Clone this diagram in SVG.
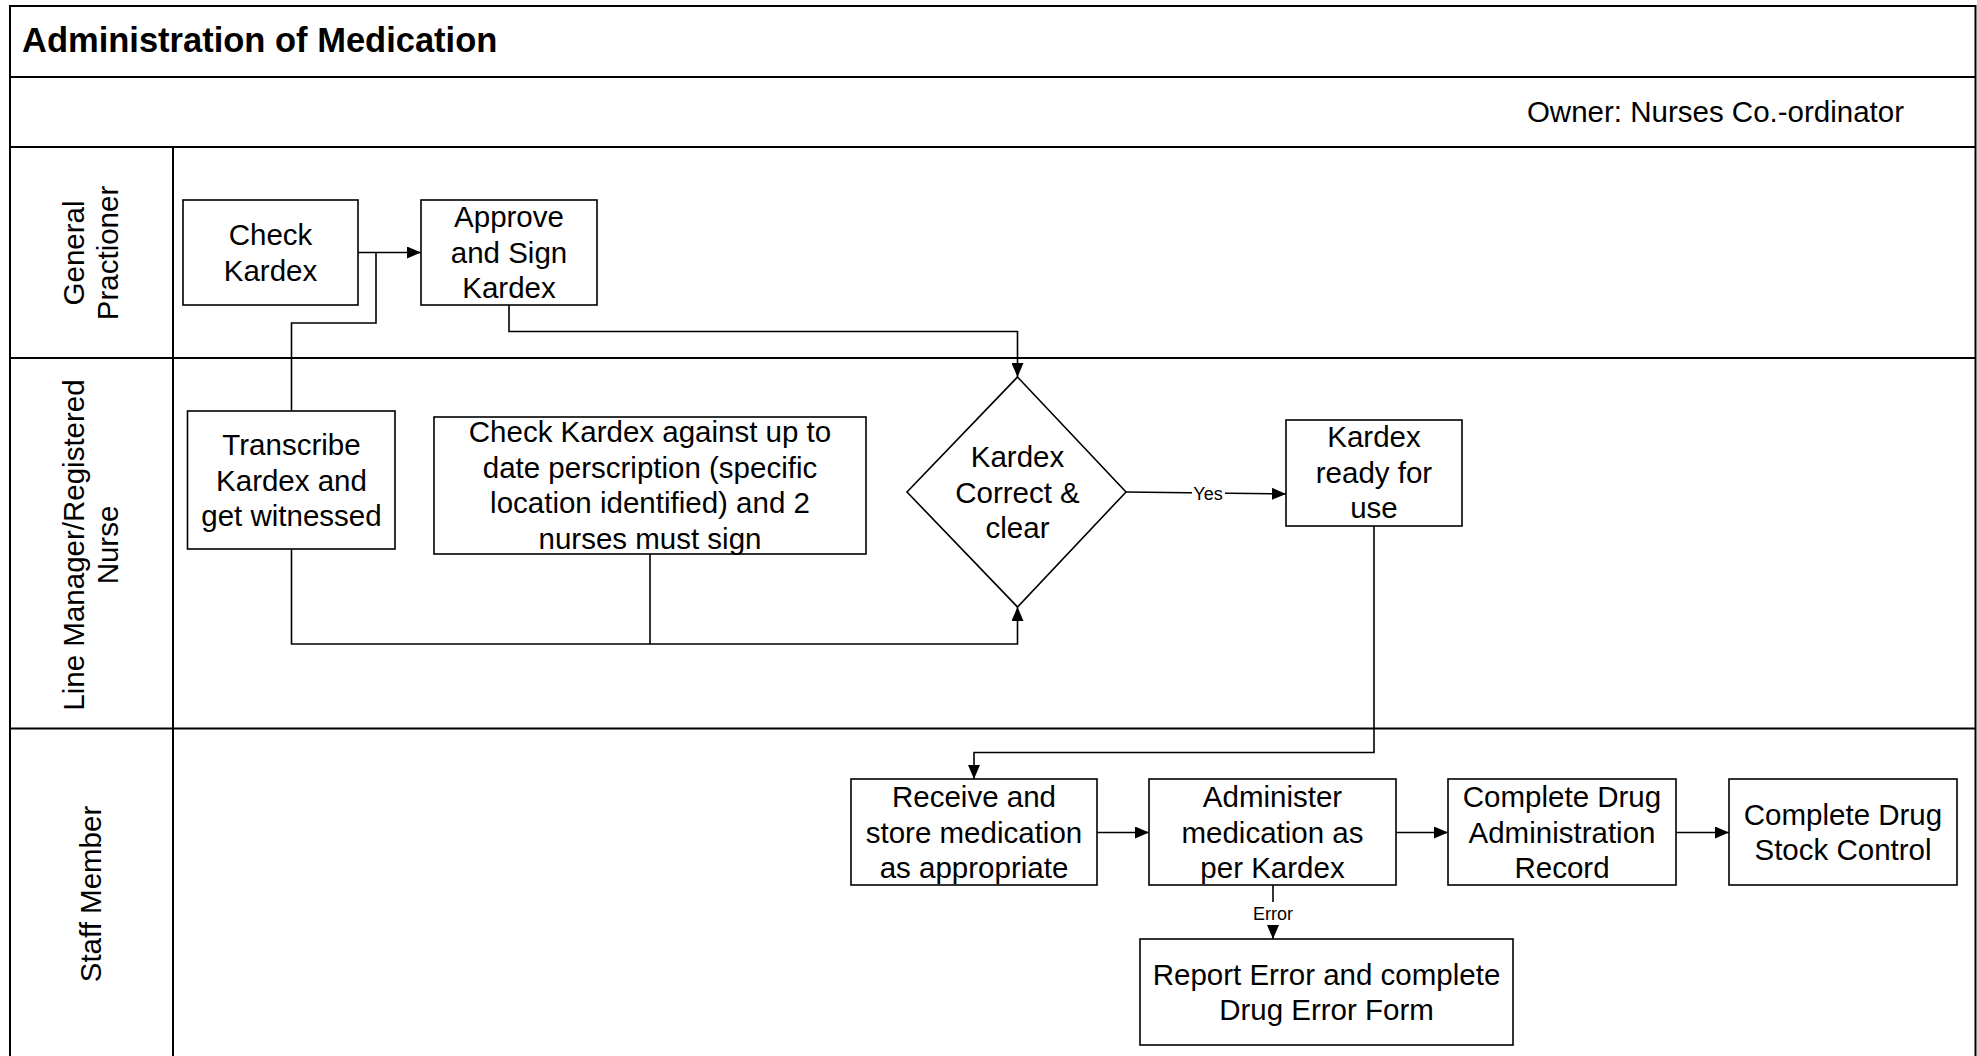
<svg xmlns="http://www.w3.org/2000/svg" width="1977" height="1056" viewBox="0 0 1977 1056">
<style>
.frame{fill:none;stroke:#000;stroke-width:2}
.box{fill:#fff;stroke:#000;stroke-width:1.6}
.t{font-family:"Liberation Sans",Arial,sans-serif;font-size:29.5px;fill:#000;text-anchor:middle}
.lane{font-family:"Liberation Sans",Arial,sans-serif;font-size:29.5px;fill:#000;text-anchor:middle}
.title{font-family:"Liberation Sans",Arial,sans-serif;font-size:34.5px;font-weight:bold;fill:#000}
.owner{font-family:"Liberation Sans",Arial,sans-serif;font-size:29.5px;fill:#000;text-anchor:end}
.lbl{font-family:"Liberation Sans",Arial,sans-serif;font-size:18px;fill:#000;text-anchor:middle}
.c{fill:none;stroke:#000;stroke-width:1.6}
.ca{fill:none;stroke:#000;stroke-width:1.6;marker-end:url(#arr)}
</style>
<defs>
<marker id="arr" markerUnits="userSpaceOnUse" markerWidth="14" markerHeight="12" refX="14" refY="6" orient="auto">
<path d="M0,0 L14,6 L0,12 z" fill="#000"/>
</marker>
</defs>
<rect x="0" y="0" width="1977" height="1056" fill="#fff"/>
<g id="pool">
<path class="frame" d="M10,1060 V6 H1975.5 V1060"/>
<line class="frame" x1="10" y1="77" x2="1975.5" y2="77"/>
<line class="frame" x1="10" y1="147" x2="1975.5" y2="147"/>
<line class="frame" x1="10" y1="358" x2="1975.5" y2="358"/>
<line class="frame" x1="10" y1="728.5" x2="1975.5" y2="728.5"/>
<line class="frame" x1="173" y1="147" x2="173" y2="1060"/>
<text class="title" x="22" y="52">Administration of Medication</text>
<text class="owner" x="1904" y="122">Owner: Nurses Co.-ordinator</text>
</g>
<g id="lane-gp">
<text class="lane" transform="translate(0,253) rotate(-90)"><tspan x="0" y="84">General</tspan><tspan x="0" y="118">Practioner</tspan></text>
</g>
<g id="lane-nurse">
<text class="lane" transform="translate(0,545) rotate(-90)"><tspan x="0" y="84">Line Manager/Registered</tspan><tspan x="0" y="118">Nurse</tspan></text>
</g>
<g id="lane-staff">
<text class="lane" transform="translate(0,894) rotate(-90)"><tspan x="0" y="101">Staff Member</tspan></text>
</g>
<g id="connectors">
<line class="ca" x1="358" y1="252.5" x2="421" y2="252.5"/>
<polyline class="c" points="291.5,411 291.5,323 376,323 376,252.5"/>
<polyline class="ca" points="509,305 509,331.5 1017.5,331.5 1017.5,377"/>
<polyline class="ca" points="291.5,549 291.5,644 1017.5,644 1017.5,607"/>
<line class="c" x1="650" y1="554" x2="650" y2="644"/>
<polyline class="ca" points="1126,492 1208,493 1286,494"/>
<rect x="1192" y="484" width="33" height="18" fill="#fff"/>
<text class="lbl" x="1208" y="499.5">Yes</text>
<polyline class="ca" points="1374,526 1374,752.5 974,752.5 974,779"/>
<line class="ca" x1="1097" y1="832.5" x2="1149" y2="832.5"/>
<line class="ca" x1="1396" y1="832.5" x2="1448" y2="832.5"/>
<line class="ca" x1="1676" y1="832.5" x2="1729" y2="832.5"/>
<line class="ca" x1="1273" y1="885" x2="1273" y2="939"/>
<rect x="1252" y="902" width="42" height="23" fill="#fff"/>
<text class="lbl" x="1273" y="920">Error</text>
</g>
<g id="n-check">
<rect class="box" x="183" y="200" width="175" height="105"/>
<text class="t"><tspan x="270.5" y="245">Check</tspan><tspan x="270.5" y="280.5">Kardex</tspan></text>
</g>
<g id="n-approve">
<rect class="box" x="421" y="200" width="176" height="105"/>
<text class="t"><tspan x="509" y="227">Approve</tspan><tspan x="509" y="262.5">and Sign</tspan><tspan x="509" y="298">Kardex</tspan></text>
</g>
<g id="n-transcribe">
<rect class="box" x="187.5" y="411" width="207.5" height="138"/>
<text class="t"><tspan x="291.5" y="455">Transcribe</tspan><tspan x="291.5" y="490.5">Kardex and</tspan><tspan x="291.5" y="526">get witnessed</tspan></text>
</g>
<g id="n-checkagainst">
<rect class="box" x="434" y="417" width="432" height="137"/>
<text class="t"><tspan x="650" y="442">Check Kardex against up to</tspan><tspan x="650" y="477.5">date perscription (specific</tspan><tspan x="650" y="513">location identified) and 2</tspan><tspan x="650" y="548.5">nurses must sign</tspan></text>
</g>
<g id="n-decision">
<polygon class="box" points="1017.5,377 1126,492 1017.5,607 907,492"/>
<text class="t"><tspan x="1017.5" y="467">Kardex</tspan><tspan x="1017.5" y="502.5">Correct &amp;</tspan><tspan x="1017.5" y="538">clear</tspan></text>
</g>
<g id="n-ready">
<rect class="box" x="1286" y="420" width="176" height="106"/>
<text class="t"><tspan x="1374" y="447">Kardex</tspan><tspan x="1374" y="482.5">ready for</tspan><tspan x="1374" y="518">use</tspan></text>
</g>
<g id="n-receive">
<rect class="box" x="851" y="779" width="246" height="106"/>
<text class="t"><tspan x="974" y="807">Receive and</tspan><tspan x="974" y="842.5">store medication</tspan><tspan x="974" y="878">as appropriate</tspan></text>
</g>
<g id="n-administer">
<rect class="box" x="1149" y="779" width="247" height="106"/>
<text class="t"><tspan x="1272.5" y="807">Administer</tspan><tspan x="1272.5" y="842.5">medication as</tspan><tspan x="1272.5" y="878">per Kardex</tspan></text>
</g>
<g id="n-record">
<rect class="box" x="1448" y="779" width="228" height="106"/>
<text class="t"><tspan x="1562" y="807">Complete Drug</tspan><tspan x="1562" y="842.5">Administration</tspan><tspan x="1562" y="878">Record</tspan></text>
</g>
<g id="n-stock">
<rect class="box" x="1729" y="779" width="228" height="106"/>
<text class="t"><tspan x="1843" y="824.5">Complete Drug</tspan><tspan x="1843" y="860">Stock Control</tspan></text>
</g>
<g id="n-error">
<rect class="box" x="1140" y="939" width="373" height="106"/>
<text class="t"><tspan x="1326.5" y="984.5">Report Error and complete</tspan><tspan x="1326.5" y="1020">Drug Error Form</tspan></text>
</g>
</svg>
